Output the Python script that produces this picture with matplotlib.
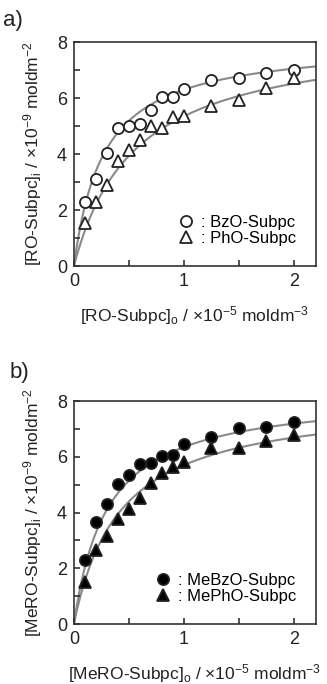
import numpy as np
import matplotlib.pyplot as plt

plt.rcParams['font.family'] = ['Liberation Sans', 'DejaVu Sans']
plt.rcParams['mathtext.fontset'] = 'custom'
plt.rcParams['mathtext.rm'] = 'Liberation Sans'
plt.rcParams['mathtext.it'] = 'Liberation Sans'
plt.rcParams['mathtext.bf'] = 'Liberation Sans:bold'
plt.rcParams['mathtext.default'] = 'regular'

# 数据 (panel a)
conc = [0.1, 0.2, 0.3, 0.4, 0.5, 0.6, 0.7, 0.8, 0.9, 1.0, 1.25, 1.5, 1.75, 2.0]
bzo = [2.3, 3.12, 4.05, 4.92, 5.0, 5.07, 5.58, 6.03, 6.03, 6.32, 6.65, 6.71, 6.91, 7.01]
pho = [1.53, 2.3, 2.9, 3.75, 4.13, 4.5, 5.0, 4.94, 5.31, 5.36, 5.7, 5.93, 6.35, 6.73]
# 数据 (panel b)
mebzo = [2.3, 3.67, 4.3, 5.02, 5.35, 5.73, 5.79, 6.04, 6.06, 6.45, 6.7, 7.02, 7.06, 7.26]
mepho = [1.5, 2.66, 3.17, 3.75, 4.14, 4.51, 5.06, 5.41, 5.65, 5.8, 6.3, 6.3, 6.58, 6.78]

# Langmuir fit parameters (Gamma_max, K)
fit_a = [(8.01, 3.68), (8.34, 1.79)]
fit_b = [(8.29, 3.27), (8.10, 2.375)]

fig = plt.figure(figsize=(3.27, 6.84), dpi=100)
ax_a = fig.add_axes([0.226, 0.611, 0.74, 0.3275])
ax_b = fig.add_axes([0.226, 0.0877, 0.74, 0.326])

xs = np.linspace(0, 2.2, 200)


def draw(ax, y1, y2, fits, filled, names, label):
    for g, k in fits:
        ax.plot(xs, g * k * xs / (1 + k * xs), color='#8a8a8a', lw=1.5, zorder=1)
    fc = 'black' if filled else 'white'
    ax.plot(conc, y1, 'o', ms=8, mfc=fc, mec='#222222', mew=1.3, ls='none',
            label=': ' + names[0], zorder=3)
    ax.plot(conc, y2, '^', ms=8.5, mfc=fc, mec='#222222', mew=1.3, ls='none',
            label=': ' + names[1], zorder=3)
    ax.set_xlim(0, 2.2)
    ax.set_ylim(0, 8)
    ax.set_xticks([0, 1, 2])
    ax.set_xticks([0.5, 1.5], minor=True)
    ax.set_yticks([0, 2, 4, 6, 8])
    ax.set_yticks([1, 3, 5, 7], minor=True)
    ax.tick_params(which='both', direction='in', length=4, width=1.1,
                   labelsize=13, colors='#222222', pad=5)
    for s in ax.spines.values():
        s.set_linewidth(1.2)
        s.set_color('#333333')
    ax.set_xlabel('[' + label + ']$_o$ / ×10$^{-5}$ moldm$^{-3}$', fontsize=12.5,
                  color='#222222', labelpad=10)
    ax.set_ylabel('[' + label + ']$_i$ / ×10$^{-9}$ moldm$^{-2}$', fontsize=12.5,
                  color='#222222', labelpad=9)
    ax.legend(loc='lower right', frameon=False, fontsize=12, handletextpad=0.3,
              labelspacing=0.05, borderaxespad=0.8, handlelength=1.2)


draw(ax_a, bzo, pho, fit_a, False, ['BzO-Subpc', 'PhO-Subpc'], 'RO-Subpc')
draw(ax_b, mebzo, mepho, fit_b, True, ['MeBzO-Subpc', 'MePhO-Subpc'], 'MeRO-Subpc')

fig.text(0.01, 0.97, 'a)', fontsize=16, va='center', color='#222222')
fig.text(0.03, 0.455, 'b)', fontsize=16, va='center', color='#222222')

fig.savefig('out.png', dpi=100)
